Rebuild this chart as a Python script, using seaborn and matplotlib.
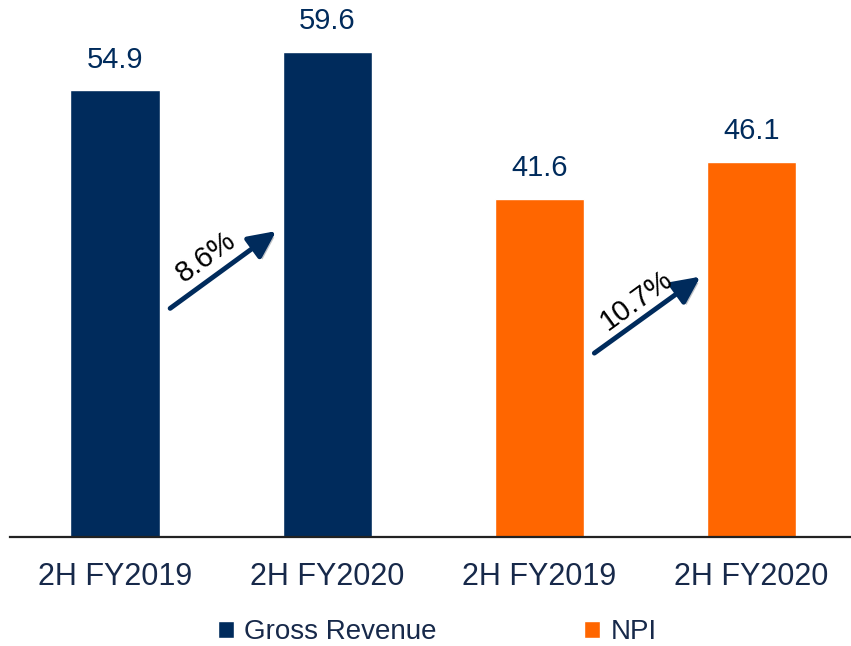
import seaborn as sns
import matplotlib.pyplot as plt
import matplotlib.patheffects as pe
import pandas as pd

# data (S$ million)
periods = ["2H FY2019", "2H FY2020", "2H FY2019", "2H FY2020"]
series = ["Gross Revenue", "Gross Revenue", "NPI", "NPI"]
values = [54.9, 59.6, 41.6, 46.1]
growth_labels = ["8.6%", "10.7%"]

navy = "#002b5c"
orange = "#ff6600"
text_col = "#17294a"

df = pd.DataFrame({
    "slot": [f"{i}" for i in range(len(values))],
    "period": periods,
    "series": series,
    "value": values,
})

sns.set_theme(style="white")
plt.rcParams["font.family"] = ["Liberation Sans", "DejaVu Sans"]

fig = plt.figure(figsize=(8.51, 6.46), dpi=100)
ax = fig.add_axes([10 / 851, 109 / 646, 841 / 851, 537 / 646])

sns.barplot(data=df, x="slot", y="value", hue="series", dodge=False,
            palette=[navy, orange], width=0.42, saturation=1, ax=ax)

for cont in ax.containers:
    ax.bar_label(cont, fmt="%.1f", padding=12, fontsize=21, color=navy)

ax.set_xlim(-0.495, 3.47)
ax.set_ylim(0, 66)
ax.set_xlabel("")
ax.set_ylabel("")
ax.set_yticks([])
ax.set_xticks(range(len(periods)))
ax.set_xticklabels(periods, fontsize=22, color=text_col)
ax.tick_params(axis="x", length=0, pad=18)
for side in ["left", "right", "top"]:
    ax.spines[side].set_visible(False)
ax.spines["bottom"].set_color("#222222")
ax.spines["bottom"].set_linewidth(1.6)

# growth arrows between the pairs of bars
arrows = [((0.26, 28.1), (0.76, 37.6), (0.43, 34.4)),
          ((2.26, 22.6), (2.76, 32.0), (2.46, 29.1))]
for (start, end, txt), lab in zip(arrows, growth_labels):
    ax.annotate("", xy=end, xytext=start,
                arrowprops=dict(arrowstyle="-|>,head_length=0.75,head_width=0.36",
                                lw=3.5, color=navy, mutation_scale=22,
                                shrinkA=0, shrinkB=0,
                                path_effects=[pe.SimplePatchShadow(offset=(2, -2), alpha=0.25),
                                              pe.Normal()]))
    ax.text(txt[0], txt[1], lab, rotation=36, ha="center", va="center",
            fontsize=21, color="black")

handles, labels = ax.get_legend_handles_labels()
ax.legend_.remove()
fig.legend(handles, labels, loc="center", bbox_to_anchor=(0.514, 0.021),
           ncol=2, frameon=False, fontsize=20, labelcolor=text_col,
           handlelength=0.58, handleheight=0.58, handletextpad=0.36,
           columnspacing=5.3, borderpad=0.1)

fig.savefig("out.png", dpi=100)
